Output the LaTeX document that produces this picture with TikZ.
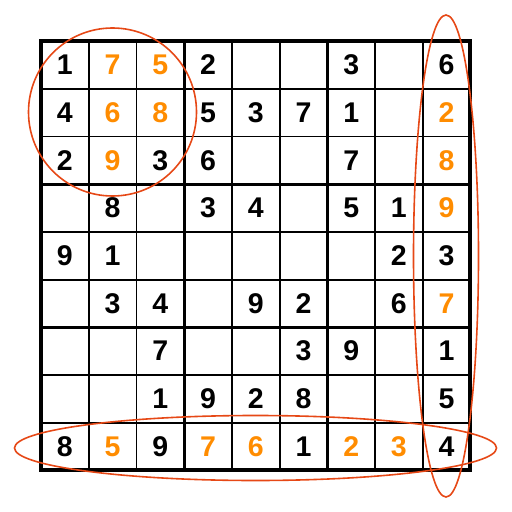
\documentclass[tikz,border=0pt]{standalone}
\usepackage{fontspec}
\setmainfont{Liberation Sans}
\newcommand{\sdfont}{\fontsize{28.5bp}{30bp}\selectfont\bfseries}
\definecolor{digorange}{RGB}{255,140,0}
\definecolor{markred}{RGB}{230,72,22}
\tikzset{
  thinline/.style={line width=1.8bp, black},
  blockline/.style={line width=3bp, black},
  outerline/.style={line width=4bp, black},
  dig/.style={font=\sdfont, inner sep=0pt, anchor=center},
  given/.style={dig, text=black},
  solved/.style={dig, text=digorange},
  marker/.style={draw=markred, line width=1.6bp}
}
\begin{document}
\begin{tikzpicture}[x=1bp,y=-1bp]
\useasboundingbox (0,0) rectangle (512,512);
\def\gx{41}\def\gy{41}\def\cs{47.72}
% thin lines
\foreach \i in {1,2,4,5,7,8} {
  \draw[thinline] ({\gx+\i*\cs},\gy) -- ({\gx+\i*\cs},{\gy+9*\cs});
  \draw[thinline] (\gx,{\gy+\i*\cs}) -- ({\gx+9*\cs},{\gy+\i*\cs});
}
\foreach \i in {3,6} {
  \draw[blockline] ({\gx+\i*\cs},\gy) -- ({\gx+\i*\cs},{\gy+9*\cs});
  \draw[blockline] (\gx,{\gy+\i*\cs}) -- ({\gx+9*\cs},{\gy+\i*\cs});
}
\draw[outerline] (\gx,\gy) rectangle ({\gx+9*\cs},{\gy+9*\cs});
% digits: row/col/value/style
\foreach \r/\c/\v/\s in {
 1/1/1/given,1/2/7/solved,1/3/5/solved,1/4/2/given,1/7/3/given,1/9/6/given,
 2/1/4/given,2/2/6/solved,2/3/8/solved,2/4/5/given,2/5/3/given,2/6/7/given,2/7/1/given,2/9/2/solved,
 3/1/2/given,3/2/9/solved,3/3/3/given,3/4/6/given,3/7/7/given,3/9/8/solved,
 4/2/8/given,4/4/3/given,4/5/4/given,4/7/5/given,4/8/1/given,4/9/9/solved,
 5/1/9/given,5/2/1/given,5/8/2/given,5/9/3/given,
 6/2/3/given,6/3/4/given,6/5/9/given,6/6/2/given,6/8/6/given,6/9/7/solved,
 7/3/7/given,7/6/3/given,7/7/9/given,7/9/1/given,
 8/3/1/given,8/4/9/given,8/5/2/given,8/6/8/given,8/9/5/given,
 9/1/8/given,9/2/5/solved,9/3/9/given,9/4/7/solved,9/5/6/solved,9/6/1/given,9/7/2/solved,9/8/3/solved,9/9/4/given} {
  \node[\s] (d\r\c) at ({\gx+(\c-0.5)*\cs},{\gy+(\r-0.5)*\cs}) {\v};
}
% markers
\draw[marker] (112.5,112) circle (84);
\draw[marker] (446,256) ellipse (32.5 and 241);
\draw[marker] (255.5,448) ellipse (241 and 32.5);
\end{tikzpicture}
\end{document}
